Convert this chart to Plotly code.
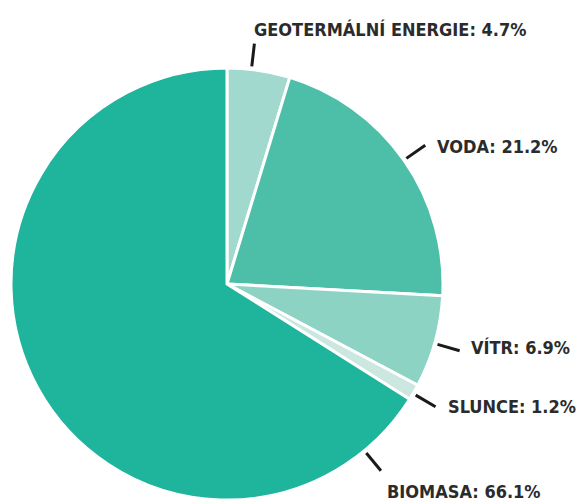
import math
import plotly.graph_objects as go

# Share of renewable energy sources (%)
sources = ["GEOTERMÁLNÍ ENERGIE", "VODA", "VÍTR", "SLUNCE", "BIOMASA"]
shares = [4.7, 21.2, 6.9, 1.2, 66.1]
colors = ["#a1d9ce", "#4dbfa9", "#8dd3c4", "#cbe7e0", "#1fb49c"]

W, H = 579, 504
CX, CY, R = 227, 284, 216

# leader-line direction (degrees clockwise from 12 o'clock) and label anchor
leader_angle = [6.5, 55.0, 106.0, 120.5, 140.5]
label_pos = [(252, 29), (435, 146), (469, 347), (446, 406), (385, 491)]

fig = go.Figure(go.Pie(
    labels=sources,
    values=shares,
    sort=False,
    direction="clockwise",
    rotation=0,
    marker=dict(colors=colors, line=dict(color="white", width=3)),
    textinfo="none",
    hoverinfo="label+value",
    showlegend=False,
    domain=dict(x=[(CX - R) / W, (CX + R) / W],
                y=[(H - CY - R) / H, (H - CY + R) / H]),
))

shapes, annotations = [], []
for name, val, ang, (lx, ly) in zip(sources, shares, leader_angle, label_pos):
    a = math.radians(ang)
    r0, r1 = R + 3, R + 26
    x0, y0 = CX + r0 * math.sin(a), CY - r0 * math.cos(a)
    x1, y1 = CX + r1 * math.sin(a), CY - r1 * math.cos(a)
    shapes.append(dict(type="line", xref="x", yref="y",
                       x0=x0, y0=y0, x1=x1, y1=y1,
                       line=dict(color="#1a1a1a", width=3)))
    annotations.append(dict(
        x=lx, y=ly, xref="x", yref="y", xanchor="left", yanchor="middle",
        text=f"<b>{name}: {val:.1f}%</b>", showarrow=False,
        font=dict(family="DejaVu Sans Condensed, DejaVu Sans", size=18,
                  color="#2b2b2b"),
    ))

fig.update_layout(
    width=W, height=H,
    margin=dict(l=0, r=0, t=0, b=0),
    paper_bgcolor="white", plot_bgcolor="rgba(0,0,0,0)",
    xaxis=dict(range=[0, W], visible=False, fixedrange=True),
    yaxis=dict(range=[H, 0], visible=False, fixedrange=True),
    shapes=shapes, annotations=annotations,
)

fig.write_html("out.html")
